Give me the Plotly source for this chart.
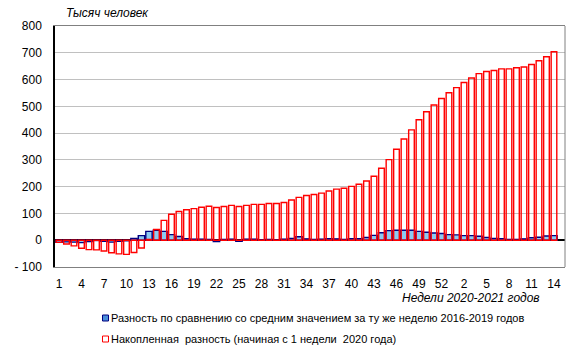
import plotly.graph_objects as go

weeks_2020 = list(range(1, 54))
weeks_2021 = list(range(1, 15))
week_labels = [str(w) for w in weeks_2020] + [str(w) for w in weeks_2021]
x_idx = list(range(1, len(week_labels) + 1))

weekly_diff = [-8, -6, -7, -9, -5, -1, -4, -7, -4, -2,
               7, 17, 33, 37, 33, 21, 14, 6, 4, 4,
               3, -5, 3, 4, -4, 4, 4, 2, 3, 2,
               4, 7, 13, 5, 3, 4, 6, 5, 3, 6,
               6, 10, 18, 28, 36, 37, 37, 37, 33, 30,
               27, 25, 21, 20, 17, 17, 15, 10, 7, 6,
               3, 3, 5, 9, 11, 16, 17]

cumulative = [-8, -14, -21, -30, -35, -36, -40, -47, -51, -53,
              -46, -29, 3, 40, 74, 97, 107, 114, 118, 123,
              127, 122, 126, 130, 126, 130, 134, 134, 137, 137,
              141, 150, 160, 167, 171, 176, 184, 191, 194, 201,
              209, 221, 239, 269, 301, 340, 378, 412, 450, 480,
              505, 529, 551, 570, 589, 606, 622, 630, 634, 640,
              640, 644, 647, 656, 670, 685, 704]

tick_positions = x_idx[::3]
tick_labels = week_labels[::3]

y_ticks = list(range(-100, 801, 100))
y_tick_labels = ["- 100" if v < 0 else str(v) for v in y_ticks]

name_weekly = "Разность по сравнению со средним значением за ту же неделю 2016-2019 годов"
name_cum = "Накопленная  разность (начиная с 1 недели  2020 года)"

W, H = 579, 355
ML, MR, MT, MB = 55, 14, 26, 88
PW, PH = W - ML - MR, H - MT - MB


def px_x(p):
    return (p - ML) / PW


def px_y(p):
    return (H - MB - p) / PH


fig = go.Figure()
fig.add_trace(go.Bar(
    x=x_idx, y=weekly_diff, name=name_weekly, width=0.85,
    marker=dict(color="#8ccaf2", line=dict(color="#000080", width=1.4)),
    showlegend=False,
))
fig.add_trace(go.Bar(
    x=x_idx, y=cumulative, name=name_cum, width=0.75,
    marker=dict(color="rgba(255,255,255,0)", line=dict(color="#ff0000", width=1.4)),
    showlegend=False,
))

legend_rows = [(name_weekly, "#4a90d9", "#000080", 318),
               (name_cum, "white", "#ff0000", 339)]
shapes = []
annotations = [
    dict(text="<i>Тысяч человек</i>", xref="paper", yref="paper",
         x=px_x(64), y=px_y(13), xanchor="left", yanchor="middle",
         showarrow=False, font=dict(size=12)),
    dict(text="<i>Недели 2020-2021 годов</i>", xref="paper", yref="paper",
         x=px_x(542), y=px_y(298), xanchor="right", yanchor="middle",
         showarrow=False, font=dict(size=12)),
]
for label, fill, edge, yc in legend_rows:
    shapes.append(dict(type="rect", xref="paper", yref="paper",
                       x0=px_x(102.5), x1=px_x(108.5), y0=px_y(yc - 3), y1=px_y(yc + 3),
                       fillcolor=fill, line=dict(color=edge, width=1)))
    annotations.append(dict(text=label, xref="paper", yref="paper",
                            x=px_x(109), y=px_y(yc), xanchor="left", yanchor="middle",
                            showarrow=False, font=dict(size=11)))

# right frame edge
shapes.append(dict(type="line", xref="paper", yref="paper", x0=1, x1=1, y0=0, y1=1,
                   line=dict(color="#808080", width=1)))

fig.update_layout(
    width=W, height=H,
    margin=dict(l=ML, r=MR, t=MT, b=MB),
    barmode="overlay",
    plot_bgcolor="white", paper_bgcolor="white",
    font=dict(family="Liberation Sans, Arial, sans-serif", size=12, color="black"),
    showlegend=False,
    xaxis=dict(
        range=[0.47, len(x_idx) + 1.47], automargin=False,
        tickmode="array", tickvals=tick_positions, ticktext=tick_labels,
        showgrid=False, zeroline=False, ticks="", ticklabelstandoff=6,
        showline=True, linecolor="#808080", linewidth=1, mirror=True,
        tickfont=dict(size=12),
    ),
    yaxis=dict(
        range=[-100, 800], automargin=False,
        tickmode="array", tickvals=y_ticks, ticktext=y_tick_labels,
        showgrid=True, gridcolor="#c0c0c0", gridwidth=1,
        zeroline=True, zerolinecolor="black", zerolinewidth=1.5,
        showline=True, linecolor="black", linewidth=1.5, mirror=False,
        ticks="", ticklabelstandoff=9, tickfont=dict(size=12),
    ),
    shapes=shapes,
    annotations=annotations,
)

fig.write_html("out.html", config={"displayModeBar": False},
               post_script="document.body.style.margin='0px';")
